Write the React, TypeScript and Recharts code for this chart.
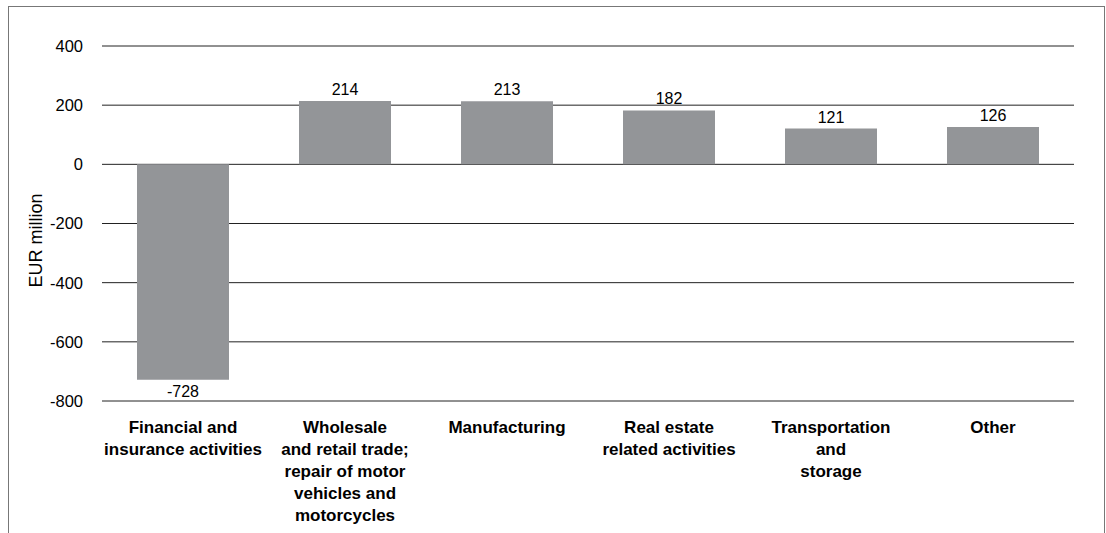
import React from 'react'
import { BarChart, Bar, XAxis, YAxis, CartesianGrid, LabelList } from 'recharts'

// sectors (line breaks as in the source figure)
const categories = [
  'Financial and\ninsurance activities',
  'Wholesale\nand retail trade;\nrepair of motor\nvehicles and\nmotorcycles',
  'Manufacturing',
  'Real estate\nrelated activities',
  'Transportation\nand\nstorage',
  'Other',
]
const values = [-728, 214, 213, 182, 121, 126]
const yTicks = [-800, -600, -400, -200, 0, 200, 400]

const data = categories.map((name, i) => ({ name, value: values[i] }))

const FONT = '"Liberation Sans", Arial, Helvetica, sans-serif'

const CategoryTick = (props: any) => {
  const { x, y, payload } = props
  const lines = String(payload.value).split('\n')
  return (
    <text
      x={x}
      y={y}
      textAnchor="middle"
      fontFamily={FONT}
      fontSize={17}
      fontWeight="bold"
      fill="#000"
    >
      {lines.map((line, i) => (
        <tspan key={i} x={x} dy={i === 0 ? 24 : 22}>
          {line}
        </tspan>
      ))}
    </text>
  )
}

const ValueLabel = (props: any) => {
  const { x, y, width, height, value } = props
  const top = Math.min(y, y + height)
  const bottom = Math.max(y, y + height)
  const cx = x + width / 2
  return (
    <text
      x={cx}
      y={value >= 0 ? top - 6 : bottom + 17}
      textAnchor="middle"
      fontFamily={FONT}
      fontSize={16}
      fill="#000"
    >
      {value}
    </text>
  )
}

export default function App() {
  return (
    <div
      style={{
        position: 'absolute',
        left: 8,
        top: 6,
        width: 1095,
        height: 540,
        borderTop: '1px solid #777',
        borderLeft: '1px solid #777',
        borderRight: '1px solid #777',
        background: '#fff',
      }}
    >
      <BarChart
        width={1095}
        height={526}
        data={data}
        margin={{ top: 39, right: 30, left: 0, bottom: 0 }}
      >
        <CartesianGrid vertical={false} stroke="#222" />
        <XAxis
          dataKey="name"
          axisLine={false}
          tickLine={false}
          height={132}
          interval={0}
          tick={<CategoryTick />}
        />
        <YAxis
          domain={[-800, 400]}
          ticks={yTicks}
          axisLine={false}
          tickLine={false}
          tickSize={0}
          tickMargin={19}
          width={93}
          tick={{ fontFamily: FONT, fontSize: 16.5, fill: '#000' }}
          label={{
            content: ({ viewBox }: any) => {
              const lx = viewBox.x + 33
              const ly = viewBox.y + viewBox.height / 2 + 17
              return (
                <text
                  x={lx}
                  y={ly}
                  transform={`rotate(-90, ${lx}, ${ly})`}
                  textAnchor="middle"
                  fontFamily={FONT}
                  fontSize={18}
                  fill="#000"
                >
                  EUR million
                </text>
              )
            },
          }}
        />
        <Bar dataKey="value" fill="#939598" barSize={92} isAnimationActive={false}>
          <LabelList dataKey="value" content={<ValueLabel />} />
        </Bar>
      </BarChart>
    </div>
  )
}
